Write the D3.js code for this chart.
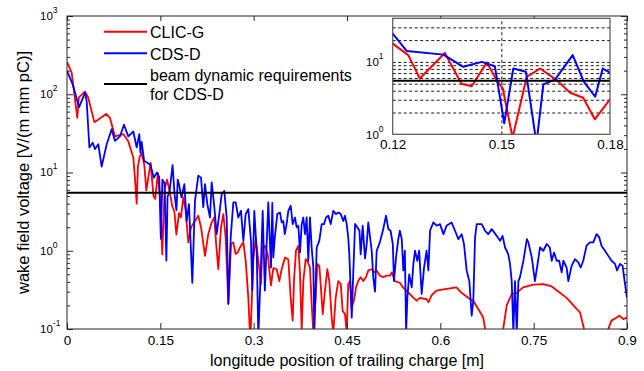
<!DOCTYPE html>
<html><head><meta charset="utf-8">
<script src="https://cdn.jsdelivr.net/npm/d3@7"></script>
<style>body{margin:0;background:#fff}text{font-family:"Liberation Sans",Arial,sans-serif;fill:#000}</style>
</head><body>
<svg id="c" width="644" height="371"></svg>
<script>
// ---------- data ----------
const clicX = [0,0.0075,0.0166,0.019,0.029,0.034,0.044,0.063,0.069,0.077,0.0905,0.0985,0.1066,0.109,0.112,0.114,0.117,0.12,0.1243,0.1275,0.1344,0.139,0.1418,0.146,0.1487,0.1504,0.1531,0.157,0.1607,0.1653,0.169,0.1726,0.1758,0.18,0.183,0.187,0.1907,0.195,0.1993,0.2057,0.211,0.2154,0.2218,0.227,0.2325,0.2368,0.2395,0.2432,0.2475,0.2512,0.255,0.2593,0.2636,0.2673,0.2711,0.2743,0.278,0.2834,0.2872,0.2914,0.2946,0.2994,0.3033,0.3075,0.3118,0.3139,0.318,0.3225,0.3278,0.3316,0.337,0.3412,0.345,0.3504,0.3557,0.3595,0.3627,0.3648,0.368,0.3718,0.3745,0.3772,0.3798,0.3836,0.3862,0.3905,0.3932,0.3959,0.3997,0.4023,0.4055,0.4077,0.411,0.4146,0.4184,0.4216,0.4254,0.428,0.4318,0.436,0.44,0.443,0.4468,0.4495,0.452,0.4548,0.4576,0.4612,0.4645,0.468,0.472,0.4762,0.4805,0.4842,0.4897,0.4934,0.4977,0.503,0.5083,0.5138,0.519,0.522,0.527,0.535,0.54,0.551,0.557,0.562,0.567,0.578,0.581,0.586,0.594,0.605,0.626,0.634,0.648,0.653,0.661,0.669,0.672,0.686,0.701,0.7067,0.7147,0.7228,0.733,0.7495,0.7655,0.779,0.7923,0.803,0.8164,0.8245,0.831,0.85,0.87,0.875,0.8835,0.8877,0.894,0.9];
const clicV = [259,189,50,91,108,91,44,56,50,29,31,25,15.5,9,4.0,12,16,17.9,12.4,5.9,13.3,5.0,4.6,9.8,5.6,4.3,0.9,6.2,8.1,5.6,3.75,3.2,1.61,3.03,2.66,4.8,3.24,1.28,1.99,2.4,2.8,2.0,0.86,1.63,2.3,2.66,1.28,0.58,2.0,2.94,1.48,0.21,1.22,1.28,0.91,0.95,1.1,1.28,0.745,0.25,0.07,0.745,1.41,0.745,0.375,1.1,1.16,0.91,0.36,0.6,0.58,0.41,0.58,0.82,0.78,0.25,0.128,0.41,1.0,1.16,0.5,0.095,0.41,0.78,0.745,0.61,0.21,0.09,0.25,0.68,0.64,0.375,0.155,0.31,0.58,0.41,0.14,0.09,0.25,0.41,0.375,0.17,0.155,0.09,0.375,0.41,0.19,0.23,0.34,0.41,0.46,0.41,0.46,0.56,0.58,0.53,0.56,0.48,0.46,0.48,0.48,0.53,0.41,0.39,0.34,0.28,0.25,0.23,0.25,0.24,0.22,0.27,0.31,0.32,0.34,0.29,0.24,0.23,0.18,0.14,0.1,0.03,0.1,0.2,0.28,0.29,0.34,0.37,0.375,0.35,0.29,0.25,0.19,0.163,0.1,0.03,0.1,0.128,0.14,0.148,0.134,0.14];

const cdsX = [0,0.009,0.0193,0.029,0.0316,0.036,0.0413,0.045,0.0503,0.0557,0.0638,0.0718,0.077,0.0852,0.0916,0.0985,0.1066,0.112,0.1162,0.118,0.12,0.1239,0.134,0.1395,0.1446,0.1482,0.1508,0.1533,0.1568,0.1597,0.1616,0.1648,0.1697,0.1728,0.1759,0.178,0.18,0.184,0.1886,0.1923,0.196,0.2014,0.2057,0.211,0.2154,0.219,0.2218,0.2255,0.2298,0.2325,0.2368,0.2405,0.2448,0.2486,0.2528,0.2566,0.2593,0.2631,0.2673,0.2711,0.2753,0.2796,0.2834,0.2872,0.2914,0.2957,0.2978,0.301,0.3049,0.3075,0.3118,0.3145,0.318,0.3235,0.3278,0.33,0.3316,0.334,0.338,0.3423,0.345,0.3477,0.35,0.353,0.3557,0.3595,0.3627,0.3664,0.3691,0.3718,0.3745,0.3772,0.3798,0.3825,0.3852,0.3878,0.3905,0.3932,0.3959,0.3975,0.4013,0.4055,0.4093,0.413,0.4163,0.42,0.4238,0.428,0.4323,0.436,0.44,0.444,0.4468,0.4495,0.452,0.4537,0.4576,0.46,0.463,0.4666,0.47,0.472,0.4752,0.479,0.4816,0.4842,0.487,0.4897,0.4923,0.495,0.4977,0.503,0.5083,0.5127,0.5164,0.52,0.5236,0.5255,0.5288,0.5325,0.535,0.538,0.5405,0.543,0.545,0.547,0.55,0.554,0.5567,0.5593,0.563,0.566,0.57,0.5738,0.578,0.5808,0.5835,0.5888,0.594,0.5995,0.605,0.61,0.618,0.6236,0.629,0.6343,0.638,0.6423,0.6466,0.6504,0.653,0.6558,0.6585,0.6665,0.672,0.677,0.6826,0.6906,0.696,0.7,0.704,0.709,0.712,0.7147,0.7174,0.72,0.7228,0.7255,0.728,0.7335,0.739,0.7415,0.747,0.752,0.755,0.7602,0.7655,0.771,0.776,0.779,0.7828,0.787,0.791,0.795,0.7977,0.803,0.8057,0.811,0.8164,0.8218,0.8256,0.8297,0.835,0.8405,0.8458,0.8511,0.8555,0.859,0.8646,0.87,0.8752,0.8807,0.884,0.8887,0.893,0.8968,0.9];
const cdsV = [199,135,68,105,82,20.9,24,19.9,23,11.9,23,35.8,25.4,29,40.7,29,33.4,20.9,31,18,24.6,14.1,12.6,8.55,10,8.7,1.42,8.1,7.3,0.75,4.9,5.7,12.4,5.3,3.3,8.1,7.1,4.8,7.1,2.4,3.95,0.39,4.35,9.1,8.6,3.6,7.1,3.95,2.66,7.5,3.6,1.63,2.94,5.3,5.8,2.66,0.21,1.48,4.14,4.14,2.66,3.24,1.34,2.94,3.4,1.34,0.31,3.24,1.0,0.08,0.68,3.24,0.31,4.14,0.61,4.1,0.82,1.48,2.94,3.09,2.3,2.4,1.63,2.19,3.24,3.76,2.19,2.66,1.99,2.09,0.95,2.19,2.66,1.63,2.66,0.745,2.66,1.1,0.61,0.09,1.1,1.34,2.19,2.19,2.66,2.8,2.19,3.24,2.94,3.09,2.94,2.4,2.8,2.19,1.48,0.91,0.14,0.5,2.2,2.0,1.8,0.9,2.09,0.8,1.2,2.3,1.5,1.0,0.45,0.3,1.0,1.3,1.9,2.8,1.9,1.8,1.22,0.41,0.82,1.41,1.8,1.41,0.56,1.0,0.09,0.25,0.5,0.34,0.68,1.0,0.745,1.0,0.28,0.61,1.0,0.56,1.8,2.3,2.09,2.19,1.63,2.09,2.3,1.8,1.41,1.63,1.22,0.56,0.41,0.148,0.23,1.48,2.19,2.19,1.8,1.63,1.89,1.55,1.34,1.55,1.1,0.91,0.68,0.41,0.09,0.41,0.09,0.41,0.46,0.745,1.41,1.28,0.82,0.41,0.58,1.1,1.0,1.22,1.1,0.745,0.95,0.745,0.745,0.53,0.745,0.61,0.41,0.64,0.78,0.71,0.61,0.745,1.16,1.28,1.28,1.63,1.48,1.16,1.0,0.86,0.745,0.68,0.56,0.68,0.64,0.375,0.25];

const requirement = 5.5;
const seriesNames = ["CLIC-G", "CDS-D"];
const seriesColors = ["#ff0000", "#0000ff"];
const reqLabel = ["beam dynamic requirements", "for CDS-D"];
const xTicks = [0, 0.15, 0.3, 0.45, 0.6, 0.75, 0.9];
const xTickLabels = ["0", "0.15", "0.3", "0.45", "0.6", "0.75", "0.9"];
const yDecades = [-1, 0, 1, 2, 3];
const insetXTicks = [0.12, 0.15, 0.18];
const insetXTickLabels = ["0.12", "0.15", "0.18"];
const insetYDecades = [0, 1];
const xLabel = "longitude position of trailing charge [m]";
const yLabel = "wake field voltage [V/(m mm pC)]";

// ---------- layout ----------
const svg = d3.select("#c");
const M = {l: 67, t: 16, r: 627, b: 329};
const I = {l: 392.7, t: 18.3, r: 610, b: 134.3};
const axisColor = "#262626";

const x = d3.scaleLinear([0, 0.9], [M.l, M.r]);
const y = d3.scaleLog([0.1, 1000], [M.b, M.t]);
const xi = d3.scaleLinear([0.12, 0.18], [I.l, I.r]);
const yi = d3.scaleLog([1, 40], [I.b, I.t]);

const clicData = clicX.map((v, i) => [v, clicV[i]]);
const cdsData = cdsX.map((v, i) => [v, cdsV[i]]);
const allSeries = [clicData, cdsData];

const defs = svg.append("defs");
defs.append("clipPath").attr("id", "mclip").append("rect")
  .attr("x", M.l).attr("y", M.t).attr("width", M.r - M.l).attr("height", M.b - M.t);
defs.append("clipPath").attr("id", "iclip").append("rect")
  .attr("x", I.l).attr("y", I.t).attr("width", I.r - I.l).attr("height", I.b - I.t);

// minor log ticks
function logTicks(lo, hi) {
  const out = [];
  for (let d = lo; d < hi; d++) for (let k = 2; k <= 9; k++) out.push(k * Math.pow(10, d));
  return out;
}
const yMajor = yDecades.map(d => Math.pow(10, d));
const yMinor = logTicks(-1, 3);

// ---------- main plot ----------
const line = d3.line().x(d => x(d[0])).y(d => y(d[1]));
const gm = svg.append("g").attr("clip-path", "url(#mclip)");
allSeries.forEach((s, i) => {
  gm.append("path").datum(s).attr("d", line).attr("fill", "none")
    .attr("stroke", seriesColors[i]).attr("stroke-width", 1.8).attr("stroke-linejoin", "round");
});
gm.append("line").attr("x1", M.l).attr("x2", M.r).attr("y1", y(requirement)).attr("y2", y(requirement))
  .attr("stroke", "#000").attr("stroke-width", 2);

// axes (ticks inward)
function styleAxis(g) {
  g.select(".domain").remove();
  g.selectAll(".tick line").attr("stroke", axisColor);
}
svg.append("g").attr("transform", `translate(0,${M.b})`)
  .call(d3.axisBottom(x).tickValues(xTicks).tickSizeInner(-6).tickSizeOuter(0).tickPadding(6)
    .tickFormat((d, i) => xTickLabels[i]))
  .call(styleAxis)
  .call(g => g.selectAll("text").attr("font-size", 13.5).attr("font-family", "Liberation Sans, Arial, sans-serif").attr("fill", "#000"));
svg.append("g").attr("transform", `translate(0,${M.t})`)
  .call(d3.axisTop(x).tickValues(xTicks).tickSizeInner(-5).tickSizeOuter(0).tickFormat(""))
  .call(styleAxis);
svg.append("g").attr("transform", `translate(${M.l},0)`)
  .call(d3.axisLeft(y).tickValues(yMajor).tickSizeInner(-6).tickSizeOuter(0).tickFormat(""))
  .call(styleAxis);
svg.append("g").attr("transform", `translate(${M.l},0)`)
  .call(d3.axisLeft(y).tickValues(yMinor).tickSizeInner(-3).tickSizeOuter(0).tickFormat(""))
  .call(styleAxis);
svg.append("g").attr("transform", `translate(${M.r},0)`)
  .call(d3.axisRight(y).tickValues(yMajor).tickSizeInner(-6).tickSizeOuter(0).tickFormat(""))
  .call(styleAxis);
svg.append("g").attr("transform", `translate(${M.r},0)`)
  .call(d3.axisRight(y).tickValues(yMinor).tickSizeInner(-3).tickSizeOuter(0).tickFormat(""))
  .call(styleAxis);

// y tick labels 10^n
yDecades.forEach(d => {
  const t = svg.append("text").attr("x", 40).attr("y", y(Math.pow(10, d)) + 3.8).attr("font-size", 11.5);
  t.append("tspan").text("10");
  t.append("tspan").attr("dy", -7).attr("font-size", 8.5).text(String(d).replace("-", "-"));
});

svg.append("rect").attr("x", M.l).attr("y", M.t).attr("width", M.r - M.l).attr("height", M.b - M.t)
  .attr("fill", "none").attr("stroke", axisColor).attr("stroke-width", 1);

// axis labels
svg.append("text").attr("x", (M.l + M.r) / 2).attr("y", 366).attr("text-anchor", "middle")
  .attr("font-size", 16).text(xLabel);
svg.append("text").attr("transform", `translate(29,${(M.t + M.b) / 2}) rotate(-90)`)
  .attr("text-anchor", "middle").attr("font-size", 16.5).text(yLabel);

// legend
const lg = svg.append("g");
const legendRows = [
  {color: seriesColors[0], w: 2, ly: 31.7, lines: [seriesNames[0]], ty: [38.3]},
  {color: seriesColors[1], w: 2, ly: 53.3, lines: [seriesNames[1]], ty: [60]},
  {color: "#000", w: 2.2, ly: 84, lines: reqLabel, ty: [81, 100]}
];
legendRows.forEach(r => {
  lg.append("line").attr("x1", 104).attr("x2", 147).attr("y1", r.ly).attr("y2", r.ly)
    .attr("stroke", r.color).attr("stroke-width", r.w);
  r.lines.forEach((s, j) => lg.append("text").attr("x", 150).attr("y", r.ty[j]).attr("font-size", 16).text(s));
});

// ---------- inset ----------
svg.append("rect").attr("x", I.l).attr("y", I.t).attr("width", I.r - I.l).attr("height", I.b - I.t)
  .attr("fill", "#fff");
const gridVals = logTicks(0, 1).concat([10, 20, 30]);
svg.append("g").attr("transform", `translate(${I.l},0)`)
  .call(d3.axisLeft(yi).tickValues(gridVals).tickSize(-(I.r - I.l)).tickFormat(""))
  .call(g => g.select(".domain").remove())
  .call(g => g.selectAll(".tick line").attr("stroke", "#000").attr("stroke-width", 0.9).attr("stroke-dasharray", "3,2.5"));
svg.append("g").attr("transform", `translate(0,${I.b})`)
  .call(d3.axisBottom(xi).tickValues([0.15]).tickSize(-(I.b - I.t)).tickFormat(""))
  .call(g => g.select(".domain").remove())
  .call(g => g.selectAll(".tick line").attr("stroke", "#000").attr("stroke-width", 0.9).attr("stroke-dasharray", "3,2.5"));

const iline = d3.line().x(d => xi(d[0])).y(d => yi(d[1]));
const gi = svg.append("g").attr("clip-path", "url(#iclip)");
allSeries.forEach((s, i) => {
  gi.append("path").datum(s).attr("d", iline).attr("fill", "none")
    .attr("stroke", seriesColors[i]).attr("stroke-width", 2).attr("stroke-linejoin", "round");
});
gi.append("line").attr("x1", I.l).attr("x2", I.r).attr("y1", yi(requirement)).attr("y2", yi(requirement))
  .attr("stroke", "#000").attr("stroke-width", 2);

svg.append("rect").attr("x", I.l).attr("y", I.t).attr("width", I.r - I.l).attr("height", I.b - I.t)
  .attr("fill", "none").attr("stroke", "#555").attr("stroke-width", 1.2);

svg.append("g").attr("transform", `translate(0,${I.b})`)
  .call(d3.axisBottom(xi).tickValues(insetXTicks).tickSizeInner(0).tickSizeOuter(0).tickPadding(5)
    .tickFormat((d, i) => insetXTickLabels[i]))
  .call(g => g.select(".domain").remove())
  .call(g => g.selectAll("text").attr("font-size", 13.5).attr("font-family", "Liberation Sans, Arial, sans-serif").attr("fill", "#000"));
insetYDecades.forEach(d => {
  const t = svg.append("text").attr("x", 366).attr("y", yi(Math.pow(10, d)) + 4.5).attr("font-size", 11.5);
  t.append("tspan").text("10");
  t.append("tspan").attr("dy", -7).attr("font-size", 8.5).text(String(d));
});
</script>
</body></html>
